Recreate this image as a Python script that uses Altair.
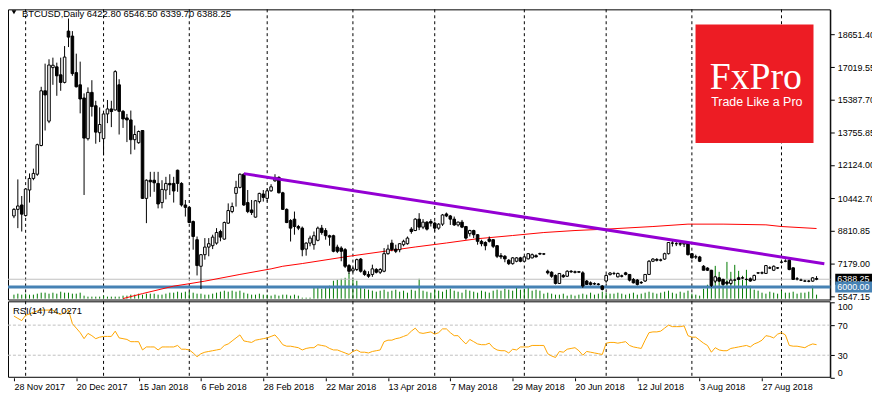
import altair as alt
import pandas as pd

FONT = "Liberation Sans"
W, H = 828, 371

# ---------------- data ----------------
date_labels = ["28 Nov 2017", "20 Dec 2017", "15 Jan 2018", "6 Feb 2018", "28 Feb 2018",
               "22 Mar 2018", "13 Apr 2018", "7 May 2018", "29 May 2018", "20 Jun 2018",
               "12 Jul 2018", "3 Aug 2018", "27 Aug 2018"]
label_bars = [0, 16, 32, 48, 64, 80, 96, 112, 128, 144, 160, 176, 192]
month_start_bars = [3, 23, 45, 65, 87, 108, 131, 152, 174, 197]

opens = [9560, 9890, 10110, 9580, 10860, 11440, 11650, 13090, 15830, 14310,
         16990, 17030, 16630, 16250, 18820, 18570, 16740, 16130, 15470, 13430,
         15750, 15080, 13730, 13430, 14670, 14920, 14870, 16130, 14800, 14470,
         14370, 13380, 13230, 13840, 10440, 11350, 11350, 11190, 10230, 10860,
         11190, 11190, 11850, 11190, 10110, 9990, 9280, 8370, 7040, 7620,
         8000, 8070, 8200, 8780, 8400, 9200, 9780, 10690, 10990, 11650,
         10230, 9860, 9500, 10280, 10660, 10440, 10820, 11320, 11490, 10720,
         9890, 9330, 9400, 9030, 8950, 7900, 8200, 8120, 8340, 8950,
         8830, 8570, 8570, 8000, 7950, 7870, 7075, 6810, 6880, 7400,
         6790, 6630, 6630, 6880, 6740, 6790, 7670, 8200, 7900, 7870,
         8120, 8170, 8900, 8830, 9400, 9000, 9250, 9280, 9200, 8950,
         9150, 9660, 9560, 9400, 9110, 9250, 9030, 8670, 8830, 8620,
         8290, 8230, 8400, 8370, 8070, 7570, 7540, 7340, 7170, 7290,
         7460, 7290, 7410, 7460, 7570, 7650, 7660, 6790, 6740, 6580,
         6180, 6580, 6540, 6790, 6760, 6740, 6710, 6300, 6210, 6170,
         6150, 6050, 6300, 6620, 6680, 6510, 6560, 6710, 6630, 6380,
         6350, 6230, 6300, 6630, 7290, 7380, 7340, 7400, 7670, 8200,
         8170, 8170, 8150, 8200, 7670, 7500, 7506, 7040, 6950, 6840,
         6295, 6460, 6380, 6245, 6180, 6345, 6460, 6460, 6380, 6410,
         6345, 6700, 6710, 6680, 6960, 6840, 6960, 7240, 7290, 7340,
         6960, 6410, 6345, 6295, 6295, 6295, 6422.80]
highs = [9950, 11390, 10560, 10940, 11690, 11930, 13180, 16030, 17190, 17410,
         17490, 17240, 17490, 18070, 19450, 18820, 17690, 17290, 15700, 16000,
         16360, 15330, 15000, 14700, 15370, 15330, 16860, 16410, 14870, 14670,
         14840, 14090, 13840, 13840, 11390, 11770, 11770, 11770, 11350, 11520,
         11650, 11520, 11880, 11250, 10360, 10030, 9330, 8530, 7640, 8450,
         8450, 8620, 8950, 8870, 9280, 10190, 10230, 11320, 11690, 11690,
         10860, 10360, 10360, 10720, 10860, 10940, 11150, 11650, 11550, 10770,
         9940, 9400, 9780, 9110, 9030, 8240, 8570, 8780, 9030, 9110,
         8950, 8620, 8620, 8120, 8040, 7950, 7150, 7000, 7420, 7450,
         6870, 6790, 7120, 6950, 6950, 7950, 8120, 8370, 8120, 8200,
         8370, 8530, 9000, 9450, 9700, 9400, 9300, 9400, 9280, 9200,
         9660, 9730, 9610, 9530, 9280, 9360, 9060, 8870, 8870, 8650,
         8370, 8290, 8530, 8400, 8100, 7700, 7600, 7400, 7500, 7500,
         7510, 7560, 7700, 7680, 7640, 7720, 7700, 6870, 6790, 6630,
         6700, 6650, 6840, 6850, 6820, 6800, 6790, 6350, 6280, 6230,
         6200, 6100, 6630, 6750, 6760, 6720, 6620, 6760, 6650, 6450,
         6400, 6300, 6650, 7350, 7450, 7450, 7420, 7720, 8240, 8370,
         8250, 8300, 8250, 8230, 7700, 7620, 7560, 7100, 6990, 6860,
         6560, 6500, 6420, 6300, 6420, 6420, 6520, 6520, 6440, 6480,
         6620, 6750, 6780, 7100, 7040, 7080, 7000, 7290, 7390, 7400,
         6990, 6500, 6420, 6360, 6350, 6500, 6546.50]
lows = [9450, 8950, 8780, 9530, 10230, 11350, 11570, 13050, 13840, 14210,
        16130, 15580, 15830, 16200, 18020, 16580, 16000, 14700, 10610, 13340,
        14540, 13180, 13260, 12600, 14210, 14010, 14840, 13640, 13970, 13260,
        12650, 12880, 13180, 10410, 9200, 10520, 10770, 9940, 9940, 10390,
        10610, 10230, 10770, 10030, 9530, 9200, 7870, 6580, 5900, 7370,
        7540, 7900, 8120, 8290, 8370, 9160, 9700, 10030, 10940, 10060,
        9700, 9610, 9480, 10190, 10280, 10280, 10770, 11270, 10690, 9860,
        9200, 8280, 8620, 8850, 7540, 7570, 8040, 7870, 8290, 8620,
        8370, 8070, 7740, 7700, 7290, 6950, 6660, 6720, 6800, 6720,
        6560, 6460, 6510, 6680, 6650, 6740, 7620, 7790, 7700, 7740,
        8040, 8120, 8670, 8800, 8850, 8900, 8830, 9030, 8780, 8870,
        9060, 9500, 9110, 9060, 9030, 8950, 8370, 8530, 8450, 8120,
        8040, 7840, 8230, 7950, 7450, 7400, 7240, 7100, 7120, 7240,
        7240, 7260, 7380, 7430, 7480, 7600, 7600, 6630, 6460, 6130,
        6150, 6460, 6500, 6710, 6680, 6700, 5960, 6100, 6080, 6100,
        6080, 5830, 6210, 6580, 6600, 6480, 6480, 6580, 6280, 6180,
        6080, 6150, 6250, 6600, 7250, 7280, 7280, 7360, 7630, 8030,
        8050, 8050, 8000, 7580, 7420, 7400, 7250, 6840, 6800, 6000,
        6200, 6250, 6080, 6100, 6120, 6300, 6350, 6400, 6330, 6260,
        6300, 6650, 6640, 6660, 6900, 6800, 6900, 7180, 7240, 6840,
        6350, 6330, 6300, 6250, 6240, 6260, 6339.70]
closes = [9890, 10060, 9650, 10910, 11440, 11690, 13130, 15830, 15620, 17120,
          17110, 16580, 16250, 17520, 18520, 16690, 16030, 15420, 13460, 15750,
          15040, 13760, 14140, 14670, 14920, 14790, 16790, 14800, 14420, 14370,
          13380, 13640, 13790, 10440, 11350, 11270, 11220, 10160, 10890, 11190,
          11120, 10810, 11190, 10110, 9990, 9230, 8530, 7075, 7620, 8000,
          8170, 8500, 8730, 8500, 9230, 9830, 10030, 10990, 11650, 10110,
          9780, 9730, 10320, 10690, 10490, 10820, 11020, 11490, 10720, 9890,
          9230, 8950, 9030, 8950, 7870, 8200, 8450, 8570, 8950, 8730,
          8570, 8500, 7790, 7790, 7790, 7040, 6790, 6910, 7370, 6790,
          6630, 6540, 6910, 6740, 6880, 7670, 7900, 7870, 7790, 8170,
          8290, 8450, 8780, 9400, 9000, 9250, 8900, 9200, 8950, 9150,
          9610, 9560, 9400, 9110, 9250, 9000, 8450, 8830, 8620, 8290,
          8170, 8070, 8290, 8040, 7540, 7510, 7410, 7170, 7460, 7460,
          7290, 7510, 7670, 7620, 7510, 7680, 7650, 6710, 6540, 6180,
          6680, 6510, 6790, 6760, 6740, 6770, 6050, 6130, 6130, 6150,
          6130, 5880, 6580, 6700, 6680, 6680, 6540, 6630, 6345, 6210,
          6130, 6210, 6630, 7290, 7400, 7340, 7360, 7670, 8230, 8200,
          8170, 8150, 8200, 7620, 7460, 7520, 7290, 6840, 6840, 6080,
          6510, 6295, 6130, 6180, 6345, 6350, 6380, 6450, 6380, 6300,
          6580, 6710, 6700, 7075, 6950, 7040, 6950, 7250, 7300, 6875,
          6380, 6400, 6340, 6300, 6290, 6460, 6388.25]
volumes = [4, 5, 4, 5, 4, 4, 5, 6, 6, 5,
           6, 5, 7, 6, 6, 5, 5, 6, 3, 2,
           2, 2, 2, 3, 2, 2, 2, 2, 3, 3,
           4, 4, 5, 4, 5, 5, 5, 4, 4, 5,
           6, 6, 7, 6, 7, 7, 6, 5, 5, 4,
           4, 5, 6, 7, 8, 7, 8, 7, 8, 6,
           5, 4, 4, 5, 4, 4, 3, 4, 3, 4,
           4, 3, 4, 3, 1, 1, 1, 11, 12, 10,
           11, 13, 18, 19, 20, 21, 26, 20, 18, 12,
           10, 9, 8, 7, 8, 9, 7, 8, 9, 7,
           8, 6, 9, 8, 20, 8, 7, 6, 9, 8,
           7, 9, 10, 8, 7, 6, 9, 8, 7, 6,
           8, 7, 6, 8, 9, 8, 10, 9, 8, 11,
           9, 10, 11, 8, 9, 8, 5, 6, 5, 4,
           4, 5, 3, 4, 3, 4, 5, 4, 6, 4,
           5, 7, 6, 5, 5, 6, 5, 4, 5, 6,
           4, 5, 6, 7, 6, 5, 6, 7, 8, 6,
           5, 7, 6, 8, 5, 4, 3, 10, 14, 23,
           33, 27, 17, 37, 27, 34, 28, 23, 29, 13,
           9, 8, 6, 5, 7, 6, 5, 8, 6, 6,
           7, 5, 6, 6, 7, 13, 4]
rsi_values = [82, 79, 76, 83, 85, 87, 89, 90, 90, 90,
              90, 86, 84, 87, 90, 72, 66, 60, 52, 59,
              56, 52, 54, 55, 55, 55, 62, 53, 52, 51,
              48, 48, 48, 37, 41, 41, 41, 37, 41, 41,
              41, 41, 43, 38, 38, 37, 33, 28, 32, 34,
              35, 36, 37, 38, 43, 45, 49, 53, 57, 49,
              48, 47, 50, 51, 52, 53, 55, 57, 51, 44,
              42, 42, 41, 40, 37, 39, 40, 40, 44, 43,
              42, 39, 37, 37, 35, 33, 31, 35, 37, 34,
              34, 33, 35, 36, 37, 48, 50, 50, 52, 53,
              55, 57, 62, 66, 60, 59, 60, 61, 58, 60,
              65, 65, 60, 56, 56, 50, 45, 51, 48, 45,
              44, 44, 46, 40, 37, 36, 36, 33, 38, 37,
              41, 41, 41, 43, 43, 43, 43, 32, 29, 27,
              35, 34, 38, 39, 40, 36, 30, 35, 34, 33,
              32, 31, 46, 47, 47, 46, 47, 48, 43, 41,
              40, 39, 50, 60, 61, 61, 62, 66, 70, 68,
              68, 68, 69, 56, 54, 54, 50, 46, 43, 34,
              40, 37, 36, 36, 39, 40, 41, 42, 43, 41,
              45, 47, 50, 56, 55, 53, 58, 60, 57, 43,
              42, 42, 41, 40, 43, 45, 44.0271]
ma_bars = [28, 33, 41, 45, 49, 58, 66, 69, 74, 86, 103, 111, 119, 128, 136, 144,
           152, 164, 173, 182, 193, 197, 206]
ma_values = [5420, 5670, 6045, 6165, 6295, 6630, 6910, 7040, 7175, 7540, 8005, 8205,
             8420, 8580, 8730, 8830, 8900, 9030, 9150, 9150, 9115, 9030, 8930]
trend_bars = [59, 208]
trend_values = [11680, 7167]
price_ticks = [5547.15, 7179.00, 8810.85, 10442.70, 12124.00, 13755.85, 15387.70,
               17019.55, 18651.40]
rsi_ticks = [0, 30, 70, 100]
rsi_levels = [70, 30]
support_level = 6000.00
last_close = 6388.25
header_text = "BTCUSD,Daily  6422.80 6546.50 6339.70 6388.25"
rsi_text = "RSI(14) 44.0271"

n = len(opens)
candles = pd.DataFrame({
    "i": list(range(n)), "o": opens, "h": highs, "l": lows, "c": closes,
    "v": volumes, "r": rsi_values,
})

# ---------------- scales / axes ----------------
x_scale = alt.Scale(domain=[-0.25, 208.25], nice=False, zero=False)
price_scale = alt.Scale(domain=[5348, 19910], range=[292.7, 0], nice=False, zero=False)
vol_scale = alt.Scale(domain=[0, 38], range=[291.3, 253.3], nice=False, zero=False)
rsi_scale = alt.Scale(domain=[0, 100], range=[371, 295.25], nice=False, zero=False)

label_js = "[" + ",".join("'%s'" % s for s in date_labels) + "]"
x_axis = alt.Axis(values=label_bars, labelExpr=label_js + "[round(datum.value / 16)]",
                  grid=False, domain=False, ticks=True, tickSize=3, tickColor="black",
                  labelAlign="left", labelPadding=2, labelFont=FONT, labelFontSize=9,
                  labelColor="black", labelOverlap=False, title=None)
price_axis = alt.Axis(orient="right", values=price_ticks, format=".2f", grid=False,
                      domainColor="black", tickColor="black", tickSize=4, labelPadding=3,
                      labelFont=FONT, labelFontSize=9, labelColor="black",
                      labelOverlap=False, title=None)
rsi_axis = alt.Axis(orient="right", values=rsi_ticks, grid=False, domainColor="black",
                    tickColor="black", tickSize=4, labelPadding=3, labelFont=FONT,
                    labelFontSize=9, labelColor="black", labelFlush=True,
                    labelOverlap=False, title=None)


def X(f):
    return alt.X(f"{f}:Q", scale=x_scale, axis=x_axis, title=None)


def YP(f, axis=None):
    return alt.Y(f"{f}:Q", scale=price_scale, axis=axis, title=None)


one = pd.DataFrame({"k": [0]})

main_frame = alt.Chart(one).mark_rect(filled=False, stroke="black", strokeWidth=1).encode(
    x=alt.value(0.5), x2=alt.value(W), y=alt.value(0.5), y2=alt.value(292.7))
rsi_frame = alt.Chart(one).mark_rect(filled=False, stroke="black", strokeWidth=1).encode(
    x=alt.value(0.5), x2=alt.value(W), y=alt.value(294.5), y2=alt.value(370.5))

grid = alt.Chart(pd.DataFrame({"g": month_start_bars})).mark_rule(
    color="black", strokeDash=[3, 3], strokeWidth=1).encode(
    x=X("g"), y=alt.value(0), y2=alt.value(H))

rsi_lv = alt.Chart(pd.DataFrame({"lvl": rsi_levels})).mark_rule(
    color="#C0C0C0", strokeDash=[3, 2], strokeWidth=1).encode(
    y=alt.Y("lvl:Q", scale=rsi_scale, axis=None), x=alt.value(0), x2=alt.value(W))

vol = alt.Chart(candles).mark_rule(color="#007A00", strokeWidth=1).encode(
    x=X("i"), y=alt.Y("v:Q", scale=vol_scale, axis=None), y2=alt.value(291.3))

last_line = alt.Chart(pd.DataFrame({"p": [last_close]})).mark_rule(
    color="#C0C0C0", strokeWidth=1).encode(
    y=YP("p", price_axis), x=alt.value(0), x2=alt.value(W))

support = alt.Chart(pd.DataFrame({"p": [support_level]})).mark_rule(
    color="#4682B4", strokeWidth=3).encode(
    y=YP("p"), x=alt.value(0), x2=alt.value(W))

ma = alt.Chart(pd.DataFrame({"i": ma_bars, "m": ma_values})).mark_line(
    color="#FF0000", strokeWidth=1).encode(x=X("i"), y=YP("m"))

wicks = alt.Chart(candles).mark_rule(color="black", strokeWidth=1).encode(
    x=X("i"), y=YP("h"), y2=alt.Y2("l"))

bodies = alt.Chart(candles).mark_bar(size=2.6, stroke="black", strokeWidth=1).encode(
    x=X("i"), y=YP("o"), y2=alt.Y2("c"),
    fill=alt.condition("datum.c >= datum.o", alt.value("white"), alt.value("black")))

trend = alt.Chart(pd.DataFrame({"i": trend_bars, "p": trend_values})).mark_line(
    color="#9400D3", strokeWidth=3).encode(x=X("i"), y=YP("p"))

rsi = alt.Chart(candles).mark_line(color="#FFA500", strokeWidth=1).encode(
    x=X("i"), y=alt.Y("r:Q", scale=rsi_scale, axis=rsi_axis, title=None))

logo = alt.Chart(one).mark_rect(color="#ED1C24").encode(
    x=alt.value(692.3), x2=alt.value(811.1), y=alt.value(15.3), y2=alt.value(134.7))
logo_t1 = alt.Chart(one).mark_text(text="FxPro", font="Liberation Serif", fontSize=38,
                                   color="white", align="center", baseline="alphabetic").encode(
    x=alt.value(753), y=alt.value(80))
logo_t2 = alt.Chart(one).mark_text(text="Trade Like a Pro", font=FONT, fontSize=12.5,
                                   color="white", align="center", baseline="alphabetic").encode(
    x=alt.value(754), y=alt.value(97))

tri = alt.Chart(one).mark_point(shape="triangle-down", size=22, filled=True, color="black",
                                opacity=1).encode(x=alt.value(6), y=alt.value(3))
header = alt.Chart(one).mark_text(text=header_text, font=FONT, fontSize=9.5, color="black",
                                  align="left", baseline="alphabetic").encode(
    x=alt.value(14), y=alt.value(8))
rsi_label = alt.Chart(one).mark_text(text=rsi_text, font=FONT, fontSize=9.5, color="black",
                                     align="left", baseline="alphabetic").encode(
    x=alt.value(5), y=alt.value(306.5))

last_box = alt.Chart(pd.DataFrame({"p": [last_close]})).mark_tick(
    orient="horizontal", size=44, thickness=11, color="black", opacity=1).encode(
    x=alt.value(855), y=YP("p"))
last_txt = alt.Chart(pd.DataFrame({"p": [last_close]})).mark_text(
    text="6388.25", font=FONT, fontSize=9, color="white", align="left", baseline="middle").encode(
    x=alt.value(835), y=YP("p"))
sup_box = alt.Chart(pd.DataFrame({"p": [support_level]})).mark_tick(
    orient="horizontal", size=44, thickness=11, color="#4682B4", opacity=1).encode(
    x=alt.value(855), y=YP("p"))
sup_txt = alt.Chart(pd.DataFrame({"p": [support_level]})).mark_text(
    text="6000.00", font=FONT, fontSize=9, color="white", align="left", baseline="middle").encode(
    x=alt.value(835), y=YP("p"))

chart = alt.layer(
    main_frame, rsi_frame, grid, rsi_lv, vol, last_line, support, ma, wicks, bodies,
    trend, rsi, logo, logo_t1, logo_t2, tri, header, rsi_label,
    last_box, last_txt, sup_box, sup_txt,
).resolve_scale(y="independent").properties(
    width=W, height=H,
    autosize=alt.AutoSizeParams(type="none"),
    padding={"left": 0, "top": 0, "right": 42, "bottom": 20},
    background="white",
).configure_view(stroke=None)

chart.save("out.html", embed_options={"renderer": "svg", "actions": False})
